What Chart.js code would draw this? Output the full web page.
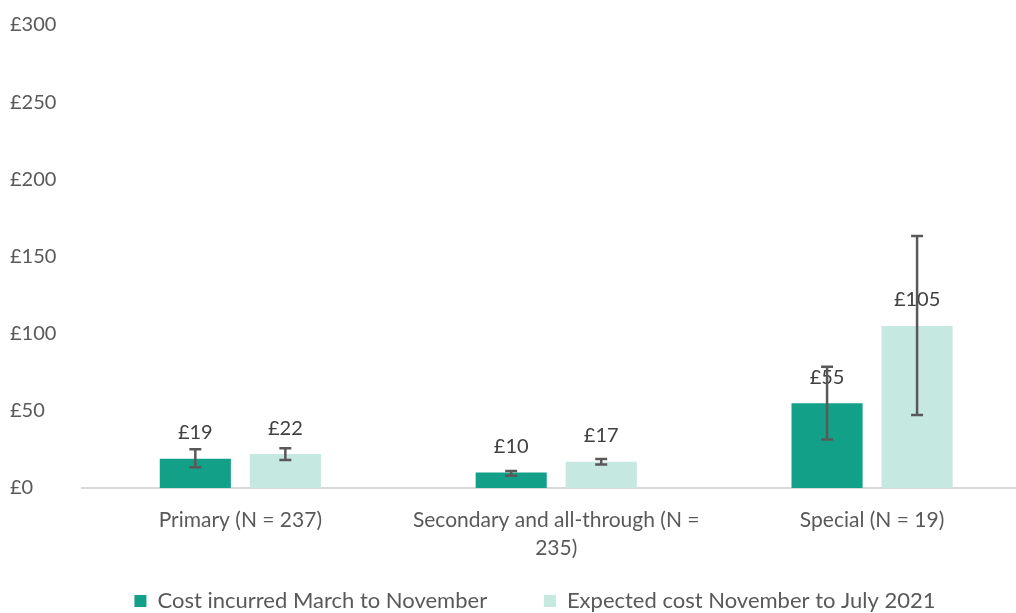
<!DOCTYPE html>
<html>
<head>
<meta charset="utf-8">
<script src="https://cdn.jsdelivr.net/npm/chart.js@4"></script>
<style>
  html, body { margin: 0; padding: 0; background: #fff; overflow: hidden; }
  #wrap { width: 1030px; height: 622px; }
</style>
</head>
<body>
<div id="wrap"><canvas id="costChart"></canvas></div>
<script>
// Chart data
const categories = [
    'Primary (N = 237)',
    ['Secondary and all-through (N =', '235)'],
    'Special (N = 19)'
];
const seriesNames = ['Cost incurred March to November', 'Expected cost November to July 2021'];
const costIncurred = [19, 10, 55];
const costExpected = [22, 17, 105];
// error bar ranges
const incurredLow = [13.4, 8.0, 31.5];
const incurredHigh = [25.1, 11.0, 78.6];
const expectedLow = [18.1, 15.3, 47.3];
const expectedHigh = [25.7, 18.8, 163.3];
const yTicks = [0, 50, 100, 150, 200, 250, 300];

const FONT = 'Lato, "Liberation Sans", sans-serif';

// Draws value labels and error bars on top of the bars
const barExtras = {
    id: 'barExtras',
    afterLayout(chart) {
        // nudge the legend a little to the right
        chart.legend.left += 15;
        chart.legend.right += 15;
    },
    afterDatasetsDraw(chart) {
        const ctx = chart.ctx;
        const yScale = chart.scales.y;
        const ranges = [[incurredLow, incurredHigh], [expectedLow, expectedHigh]];
        chart.data.datasets.forEach(function(ds, di) {
            chart.getDatasetMeta(di).data.forEach(function(bar, i) {
                ctx.save();
                ctx.font = '20px ' + FONT;
                ctx.fillStyle = '#404040';
                ctx.textAlign = 'center';
                ctx.textBaseline = 'middle';
                ctx.fillText('£' + ds.data[i], bar.x, bar.y - 26);
                ctx.restore();
            });
        });
        chart.data.datasets.forEach(function(ds, di) {
            chart.getDatasetMeta(di).data.forEach(function(bar, i) {
                const x = bar.x;
                const yLo = yScale.getPixelForValue(ranges[di][0][i]);
                const yHi = yScale.getPixelForValue(ranges[di][1][i]);
                ctx.save();
                ctx.strokeStyle = '#595959';
                ctx.lineWidth = 2.5;
                ctx.beginPath();
                ctx.moveTo(x, yLo); ctx.lineTo(x, yHi);
                ctx.moveTo(x - 6, yLo); ctx.lineTo(x + 6, yLo);
                ctx.moveTo(x - 6, yHi); ctx.lineTo(x + 6, yHi);
                ctx.stroke();
                ctx.restore();
            });
        });
    }
};

const ctx = document.getElementById('costChart').getContext('2d');
new Chart(ctx, {
    type: 'bar',
    data: {
        labels: categories,
        datasets: [{
            label: seriesNames[0],
            data: costIncurred,
            backgroundColor: '#13a088',
            borderWidth: 0
        }, {
            label: seriesNames[1],
            data: costExpected,
            backgroundColor: '#c5e8e1',
            borderWidth: 0
        }]
    },
    options: {
        responsive: true,
        maintainAspectRatio: false,
        animation: false,
        datasets: {
            bar: { categoryPercentage: 0.57, barPercentage: 0.79 }
        },
        layout: { padding: { top: 4, left: 10, right: 0, bottom: 0 } },
        scales: {
            x: {
                grid: { display: false, drawTicks: false },
                border: { color: '#d9d9d9', width: 2 },
                ticks: {
                    color: '#595959',
                    font: { family: FONT, size: 21, lineHeight: 1.333 },
                    padding: 18,
                    maxRotation: 0,
                    autoSkip: false
                }
            },
            y: {
                min: 0,
                max: 300,
                afterBuildTicks(axis) {
                    axis.ticks = yTicks.map(function(v) { return { value: v }; });
                },
                grid: { display: false, drawTicks: false },
                border: { display: false },
                ticks: {
                    color: '#595959',
                    font: { family: FONT, size: 20 },
                    crossAlign: 'far',
                    padding: 13,
                    callback: function(v) { return '£' + v; }
                }
            }
        },
        plugins: {
            legend: {
                position: 'bottom',
                labels: {
                    color: '#595959',
                    font: { family: FONT, size: 22 },
                    boxWidth: 12,
                    boxHeight: 12,
                    padding: 10,
                    generateLabels(chart) {
                        const items = Chart.defaults.plugins.legend.labels.generateLabels(chart);
                        // wider gap between the two legend entries
                        items[0].text += '\u2003\u2003\u2002\u2009';
                        return items;
                    }
                }
            },
            tooltip: { enabled: false }
        }
    },
    plugins: [barExtras]
});
</script>
</body>
</html>
